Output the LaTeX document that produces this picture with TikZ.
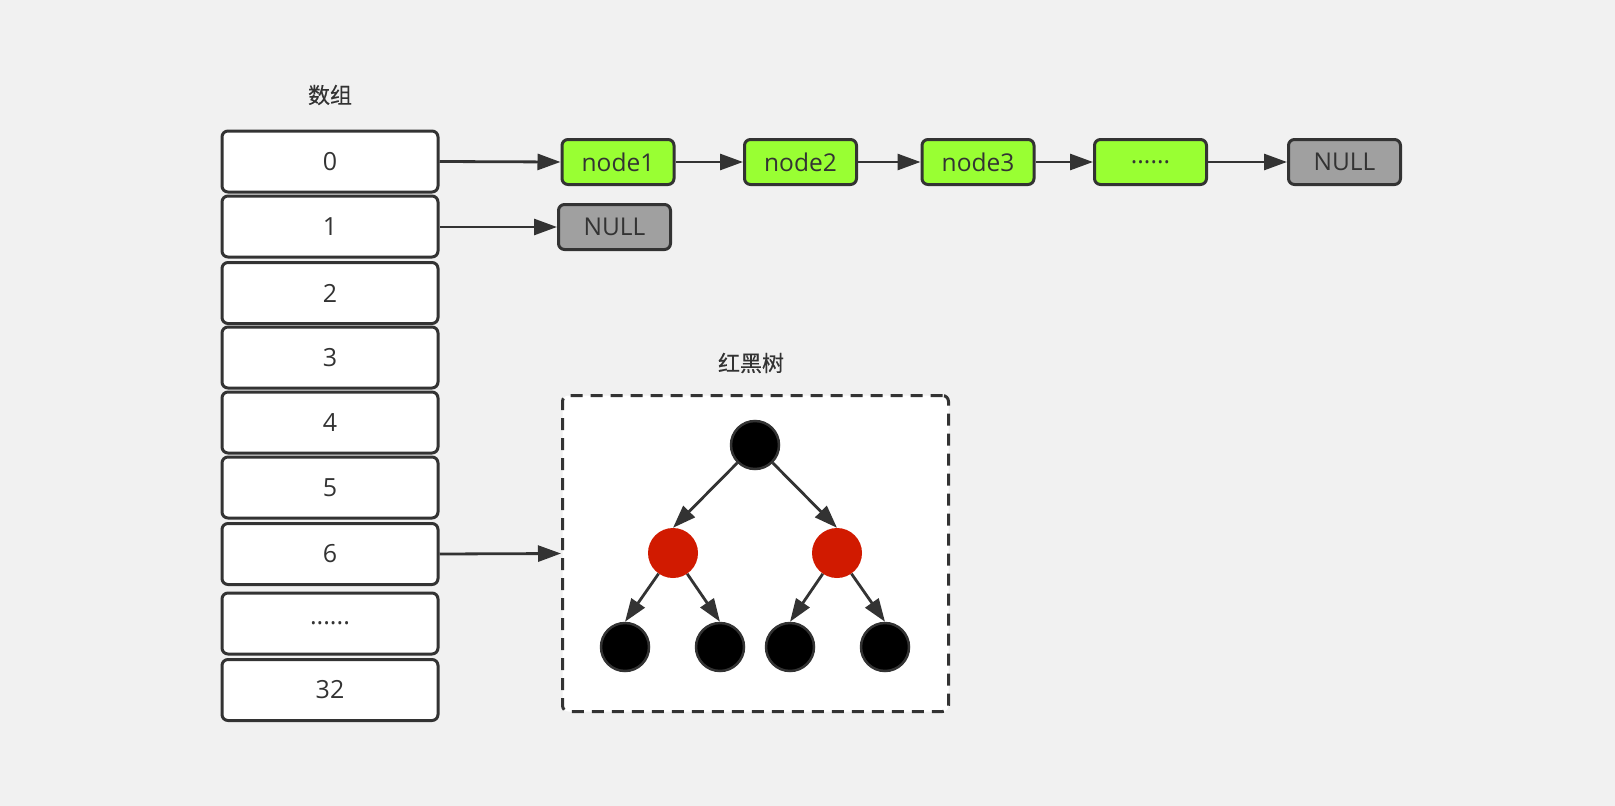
\documentclass[tikz,border=0pt]{standalone}
\usepackage{fontspec}
\setmainfont{Open Sans}
\newfontfamily\cjk[FakeBold=0.4]{Noto Sans CJK SC}
\usetikzlibrary{arrows.meta}
\definecolor{bg}{HTML}{F1F1F1}
\definecolor{ln}{HTML}{333333}
\definecolor{grn}{HTML}{99FF33}
\definecolor{gry}{HTML}{A0A0A0}
\definecolor{rd}{HTML}{D11A00}
\begin{document}
\begin{tikzpicture}[x=1pt,y=-1pt,
  cell/.style={draw=ln, line width=3pt, fill=white, rounded corners=6pt, minimum width=216pt, minimum height=61pt, inner sep=0pt, font=\fontsize{25}{29}\selectfont, text=ln},
  lnode/.style={draw=ln, line width=3pt, fill=grn, rounded corners=6pt, minimum width=112pt, minimum height=45pt, inner sep=0pt, font=\fontsize{24.5}{28}\selectfont, text=ln},
  nullnode/.style={lnode, fill=gry},
  conn/.style={draw=ln, line width=2.8pt, -{Triangle[length=23pt,width=16pt]}},
  blk/.style={circle, fill=black, draw=ln, line width=2.5pt, minimum size=48pt, inner sep=0pt},
  rednode/.style={circle, fill=rd, minimum size=50pt, inner sep=0pt},
  ttl/.style={font=\cjk\fontsize{22}{26}\selectfont, text=ln}
]
\fill[bg] (0,0) rectangle (1615,806);
\useasboundingbox (0,0) rectangle (1615,806);

% title of array
\node[ttl] (t1) at (330,95) {数组};

% array cells
\node[cell] (c0) at (330,161.5) {0};
\node[cell] (c1) at (330,226.5) {1};
\node[cell] (c2) at (330,293) {2};
\node[cell] (c3) at (330,357.5) {3};
\node[cell] (c4) at (330,422.5) {4};
\node[cell] (c5) at (330,487.5) {5};
\node[cell] (c6) at (330,554) {6};
\node[cell] (c7) at (330,623.5) {......};
\node[cell] (c8) at (330,690) {32};

% linked list
\node[lnode] (n1) at (618,162) {node1};
\node[lnode] (n2) at (800.5,162) {node2};
\node[lnode] (n3) at (978,162) {node3};
\node[lnode] (n4) at (1150.5,162) {......};
\node[nullnode] (n5) at (1344.5,162) {NULL};
\node[nullnode] (m1) at (614.5,227) {NULL};

\draw[conn] (c0.east) -- (n1.west);
\draw[conn] (n1) -- (n2);
\draw[conn] (n2) -- (n3);
\draw[conn] (n3) -- (n4);
\draw[conn] (n4) -- (n5);
\draw[conn] (c1.east |- m1.west) -- (m1.west);

% red-black tree
\node[ttl] (t2) at (751,363) {红黑树};
\node[draw=ln, line width=3pt, dash pattern=on 12pt off 8pt, fill=white, rounded corners=6pt, minimum width=386pt, minimum height=316pt, inner sep=0pt] (box) at (755.5,553.5) {};
\draw[conn] (c6.east) -- (box.west);

\node[blk] (root) at (755,445) {};
\node[rednode] (r1) at (673,553) {};
\node[rednode] (r2) at (837,553) {};
\node[blk] (l1) at (625,647) {};
\node[blk] (l2) at (720,647) {};
\node[blk] (l3) at (790,647) {};
\node[blk] (l4) at (885,647) {};

\draw[conn] (root) -- (r1.north);
\draw[conn] (root) -- (r2.north);
\draw[conn] (r1) -- (l1.north);
\draw[conn] (r1) -- (l2.north);
\draw[conn] (r2) -- (l3.north);
\draw[conn] (r2) -- (l4.north);
\end{tikzpicture}
\end{document}
